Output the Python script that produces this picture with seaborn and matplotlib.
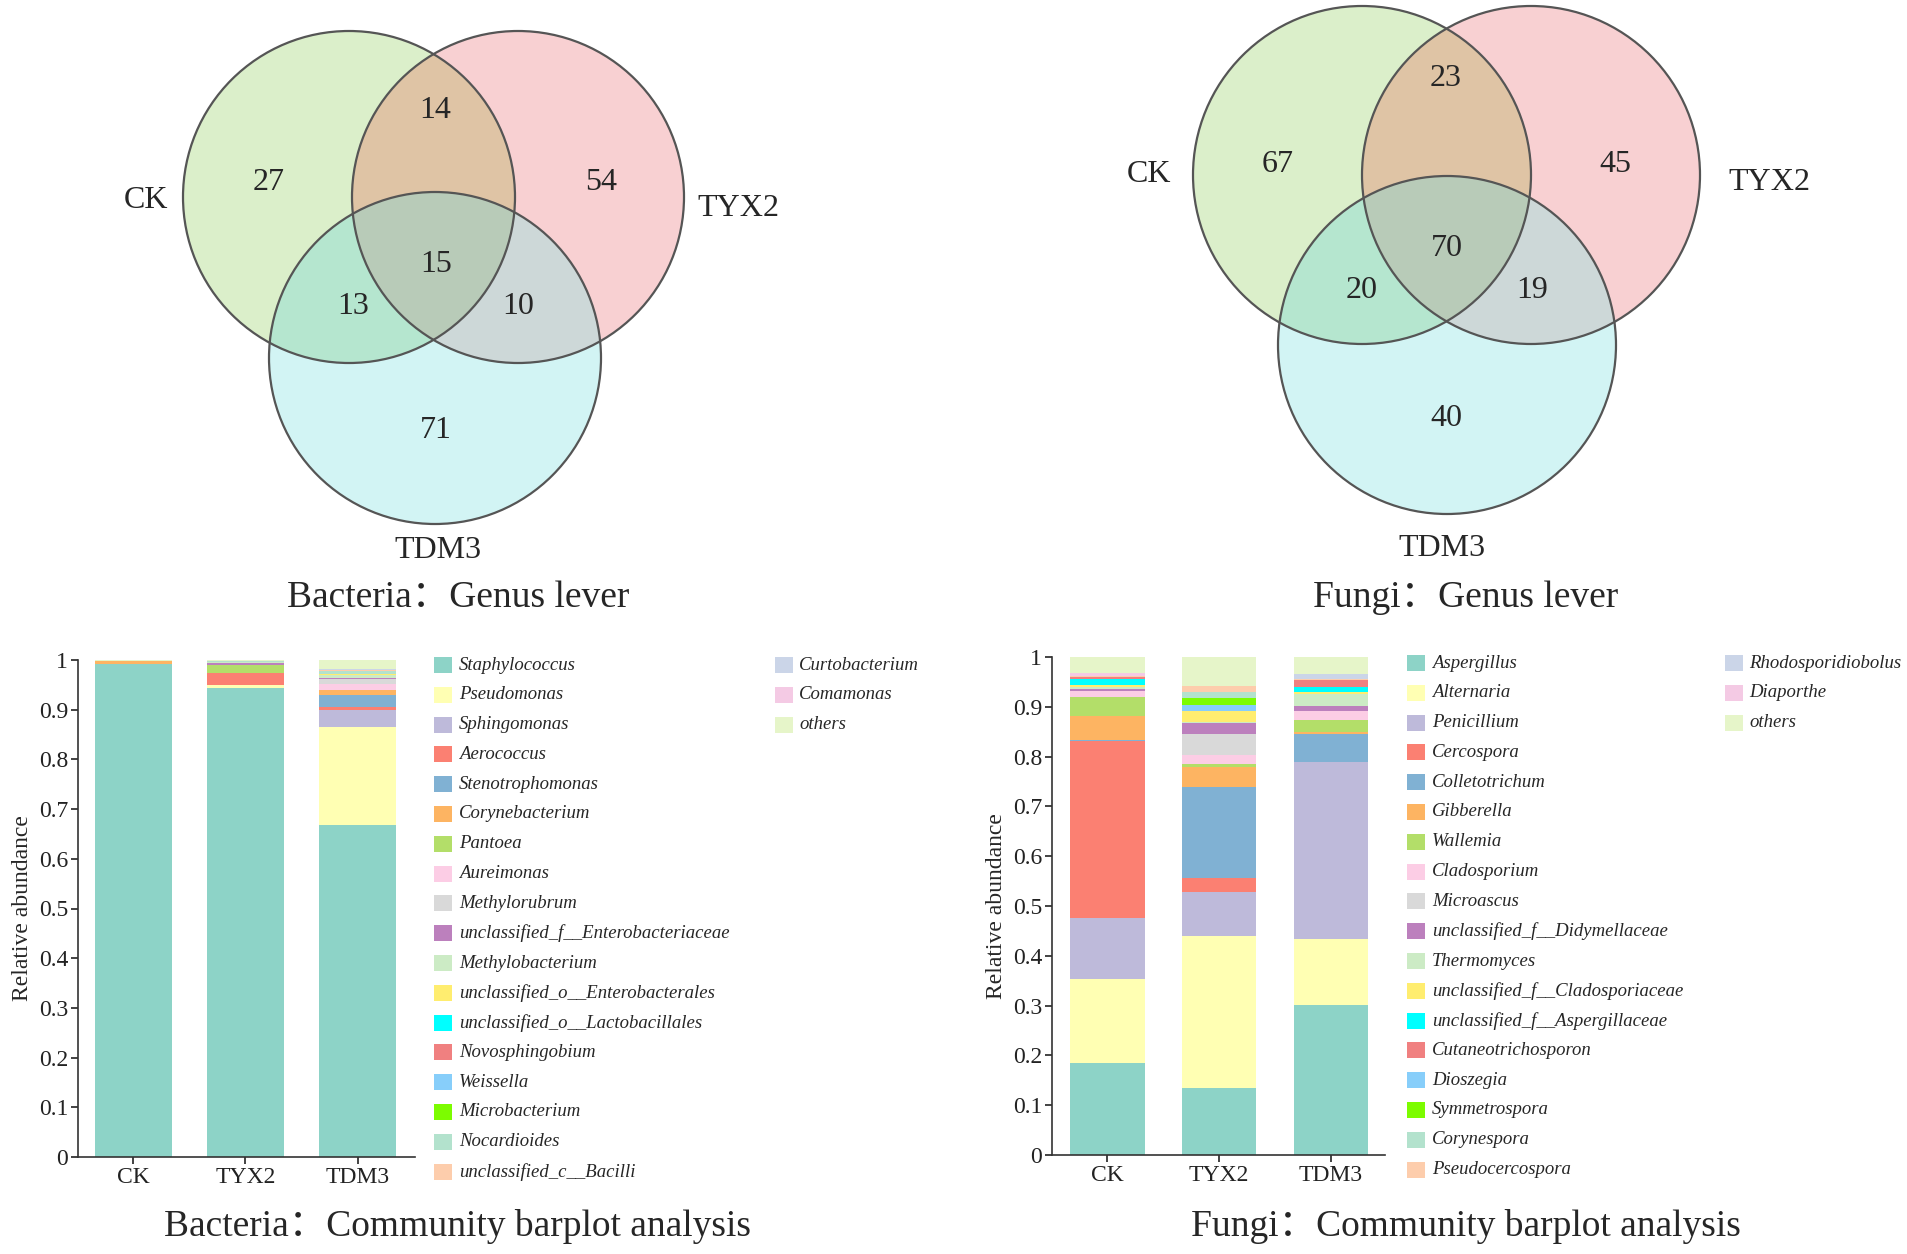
import numpy as np
import seaborn as sns
import matplotlib.pyplot as plt
from matplotlib.patches import Circle, Rectangle

# ---- data -------------------------------------------------------------
samples = ["CK", "TYX2", "TDM3"]

# venn regions: CK only, TYX2 only, TDM3 only, CK&TYX2, CK&TDM3, TYX2&TDM3, all three
bacteria_venn = [27, 54, 71, 14, 13, 10, 15]
fungi_venn = [67, 45, 40, 23, 20, 19, 70]

bac_genera = ["Staphylococcus", "Pseudomonas", "Sphingomonas", "Aerococcus",
              "Stenotrophomonas", "Corynebacterium", "Pantoea", "Aureimonas",
              "Methylorubrum", "unclassified_f__Enterobacteriaceae", "Methylobacterium",
              "unclassified_o__Enterobacterales", "unclassified_o__Lactobacillales",
              "Novosphingobium", "Weissella", "Microbacterium", "Nocardioides",
              "unclassified_c__Bacilli", "Curtobacterium", "Comamonas", "others"]
bac_ck = [0.991, 0.000, 0.000, 0.000, 0.000, 0.007, 0.000, 0.000, 0.000, 0.000, 0.000,
          0.000, 0.000, 0.000, 0.000, 0.000, 0.000, 0.000, 0.000, 0.000, 0.002]
bac_tyx2 = [0.944, 0.005, 0.000, 0.025, 0.000, 0.000, 0.016, 0.000, 0.000, 0.003, 0.002,
            0.000, 0.000, 0.000, 0.000, 0.000, 0.002, 0.000, 0.000, 0.000, 0.003]
bac_tdm3 = [0.669, 0.197, 0.034, 0.005, 0.025, 0.009, 0.000, 0.012, 0.010, 0.003, 0.006,
            0.002, 0.000, 0.000, 0.000, 0.000, 0.006, 0.001, 0.002, 0.001, 0.018]

fun_genera = ["Aspergillus", "Alternaria", "Penicillium", "Cercospora", "Colletotrichum",
              "Gibberella", "Wallemia", "Cladosporium", "Microascus",
              "unclassified_f__Didymellaceae", "Thermomyces",
              "unclassified_f__Cladosporiaceae", "unclassified_f__Aspergillaceae",
              "Cutaneotrichosporon", "Dioszegia", "Symmetrospora", "Corynespora",
              "Pseudocercospora", "Rhodosporidiobolus", "Diaporthe", "others"]
fun_ck = [0.184, 0.169, 0.122, 0.356, 0.002, 0.048, 0.038, 0.012, 0.001, 0.004, 0.004,
          0.003, 0.012, 0.004, 0.000, 0.000, 0.001, 0.001, 0.001, 0.006, 0.032]
fun_tyx2 = [0.135, 0.304, 0.090, 0.028, 0.181, 0.041, 0.007, 0.018, 0.042, 0.022, 0.002,
            0.022, 0.000, 0.000, 0.011, 0.014, 0.013, 0.012, 0.000, 0.000, 0.058]
fun_tdm3 = [0.302, 0.132, 0.355, 0.000, 0.056, 0.005, 0.024, 0.017, 0.001, 0.009, 0.024,
            0.004, 0.011, 0.014, 0.000, 0.000, 0.000, 0.001, 0.011, 0.000, 0.034]

palette = ["#8dd3c7", "#ffffb3", "#bebada", "#fb8072", "#80b1d3", "#fdb462", "#b3de69",
           "#fccde5", "#d9d9d9", "#bc80bd", "#ccebc5", "#ffed6f", "#00ffff", "#f08080",
           "#87cefa", "#7cfc00", "#b3e2cd", "#fdcdac", "#cbd5e8", "#f4cae4", "#e6f5c9"]

# ---- style ------------------------------------------------------------
sns.set_style("ticks")
plt.rcParams['font.family'] = ['Liberation Serif', 'Noto Sans CJK SC']
plt.rcParams['axes.edgecolor'] = '#333333'
plt.rcParams['axes.linewidth'] = 1.2

W, H = 1907, 1254
fig = plt.figure(figsize=(W / 100, H / 100), dpi=100)

# overlay in pixel coordinates for venns and captions
ov = fig.add_axes([0, 0, 1, 1])
ov.set_xlim(0, W)
ov.set_ylim(H, 0)
ov.axis("off")

region_cols = ["#dbefca", "#f8d0d2", "#d2f4f4", "#dfc4a5", "#b5e6cf", "#cdd8d8", "#b8cbb8"]


def draw_venn(centers, r, counts, num_pos, label_pos):
    xs = np.arange(W) + 0.5
    ys = np.arange(H) + 0.5
    gx, gy = np.meshgrid(xs, ys)
    m = [(gx - cx) ** 2 + (gy - cy) ** 2 <= r ** 2 for cx, cy in centers]
    regions = [m[0] & ~m[1] & ~m[2], m[1] & ~m[0] & ~m[2], m[2] & ~m[0] & ~m[1],
               m[0] & m[1] & ~m[2], m[0] & m[2] & ~m[1], m[1] & m[2] & ~m[0],
               m[0] & m[1] & m[2]]
    img = np.zeros((H, W, 4))
    for reg, col in zip(regions, region_cols):
        img[reg] = plt.matplotlib.colors.to_rgba(col)
    ov.imshow(img, extent=(0, W, H, 0), interpolation="nearest", zorder=1)
    for cx, cy in centers:
        ov.add_patch(Circle((cx, cy), r, fill=False, edgecolor="#555555", lw=1.6, zorder=2))
    for n, (x, y) in zip(counts, num_pos):
        ov.text(x, y, str(n), ha="center", va="center", fontsize=23, zorder=3)
    for lab, (x, y) in zip(samples, label_pos):
        ov.text(x, y, lab, ha="center", va="center", fontsize=23, zorder=3)


draw_venn([(349, 197), (518, 197), (435, 358)], 166, bacteria_venn,
          [(269, 182), (601, 182), (436, 430), (435, 111), (353, 307), (518, 307), (436, 264)],
          [(146, 200), (738, 208), (438, 551)])
draw_venn([(1362, 175), (1531, 175), (1447, 345)], 169, fungi_venn,
          [(1278, 164), (1615, 164), (1446, 418), (1446, 79), (1362, 291), (1532, 291), (1447, 248)],
          [(1149, 174), (1769, 182), (1442, 549)])

ov.text(458, 598, "Bacteria：Genus lever", ha="center", va="center", fontsize=27)
ov.text(1466, 598, "Fungi：Genus lever", ha="center", va="center", fontsize=27)
ov.text(458, 1227, "Bacteria：Community barplot analysis", ha="center", va="center", fontsize=27)
ov.text(1466, 1227, "Fungi：Community barplot analysis", ha="center", va="center", fontsize=27)


def stacked(rect, genera, table, width, xlim):
    l, r, t, b = rect
    ax = fig.add_axes([l / W, 1 - b / H, (r - l) / W, (b - t) / H])
    bottom = np.zeros(len(samples))
    for i, g in enumerate(genera):
        vals = np.array([col[i] for col in table])
        sns.barplot(x=samples, y=vals, bottom=bottom, color=palette[i], width=width,
                    saturation=1, linewidth=0, errorbar=None, order=samples, ax=ax)
        bottom = bottom + vals
    ax.set_xlim(*xlim)
    ax.set_ylim(0, 1)
    ax.set_yticks(np.arange(0, 1.01, 0.1))
    ax.set_yticklabels(["0"] + [f"{v:.1f}" for v in np.arange(0.1, 0.95, 0.1)] + ["1"])
    ax.set_ylabel("Relative abundance", fontsize=17, labelpad=4)
    ax.set_xlabel("")
    ax.tick_params(labelsize=17, length=5, width=1.2, pad=2, colors="#222222")
    sns.despine(ax=ax)
    return ax


def legend(genera, x_patch, x_text, x2_patch, x2_text, y0, dy):
    for i, g in enumerate(genera):
        if i < 18:
            xp, xt, y = x_patch, x_text, y0 + i * dy
        else:
            xp, xt, y = x2_patch, x2_text, y0 + (i - 18) * dy
        ov.add_patch(Rectangle((xp, y - 8), 17.5, 16, facecolor=palette[i], edgecolor="none"))
        ov.text(xt, y, g, ha="left", va="center", fontsize=13.5, fontstyle="italic")


stacked((78, 415, 660, 1157), bac_genera, [bac_ck, bac_tyx2, bac_tdm3], 0.685, (-0.49, 2.51))
stacked((1052, 1385, 657, 1155), fun_genera, [fun_ck, fun_tyx2, fun_tdm3], 0.665, (-0.496, 2.485))

legend(bac_genera, 434, 459, 775, 799, 665, 29.8)
legend(fun_genera, 1407, 1432, 1725, 1749, 663, 29.8)

fig.savefig("out.png", dpi=100, facecolor="white")
